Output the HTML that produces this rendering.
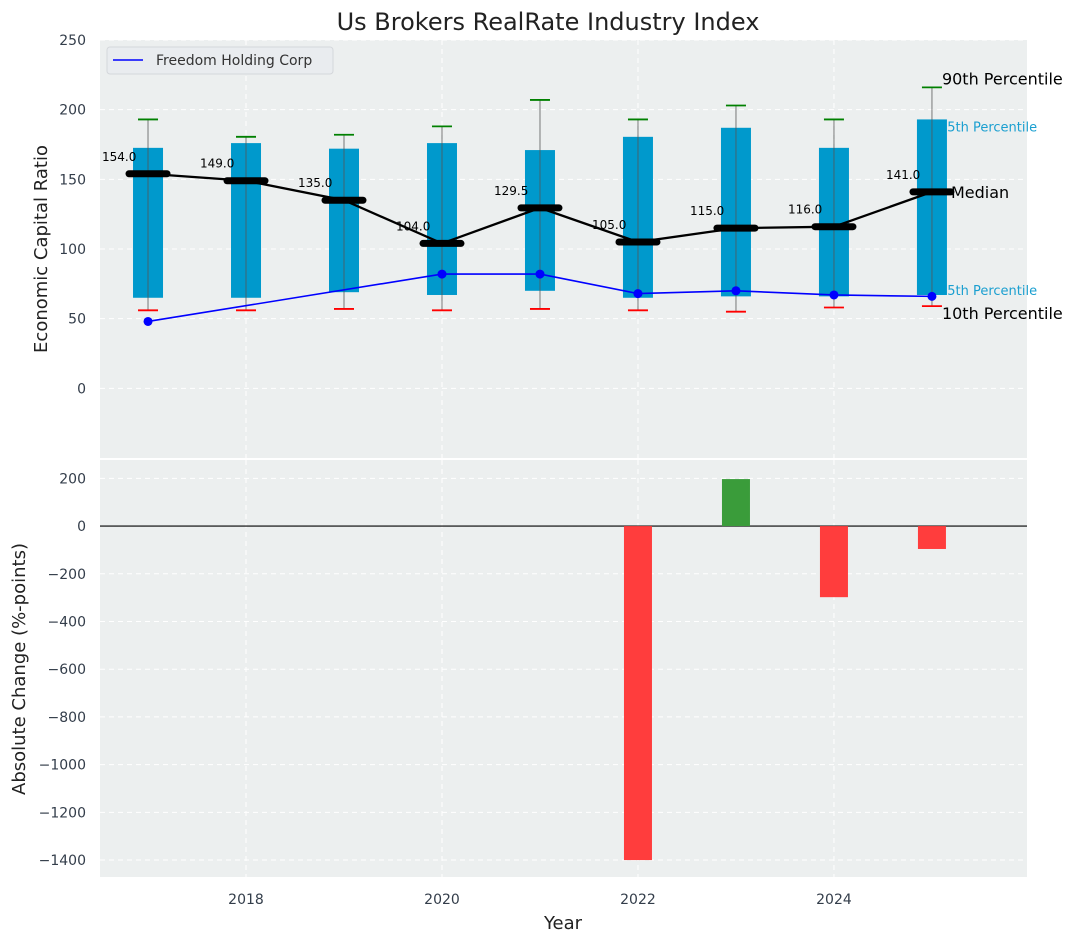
<!DOCTYPE html>
<html><head><meta charset="utf-8"><style>
body{margin:0;background:#fff;}
svg{display:block;font-family:"DejaVu Sans","Liberation Sans",sans-serif;}
</style></head><body>
<svg id="c" width="1077" height="942"></svg>
<script>
const years=[2017,2018,2019,2020,2021,2022,2023,2024,2025];
const p10=[56,56,57,56,57,56,55,58,59];
const p25=[65,65,69,67,70,65,66,66,67];
const med=[154,149,135,104,129.5,105,115,116,141];
const p75=[172.6,176,172,176,171,180.5,187,172.6,193];
const p90=[193,180.5,182,188,207,193,203,193,216];
const firmYears=[2017,2020,2021,2022,2023,2024,2025];
const firmVals=[48,82,82,68,70,67,66];
const chgYears=[2022,2023,2024,2025];
const chgVals=[-1400,197,-298,-96];
const topTicks=[0,50,100,150,200,250];
const botTicks=[200,0,-200,-400,-600,-800,-1000,-1200,-1400];
const xTicks=[2018,2020,2022,2024];

const NS="http://www.w3.org/2000/svg";
const svg=document.getElementById('c');
function el(t,a,p){const e=document.createElementNS(NS,t);for(const k in a)e.setAttribute(k,a[k]);(p||svg).appendChild(e);return e;}
const fmt=v=>String(v).replace('-','\u2212');
const L=100,R=1027;
const X=v=>L+(v-2016.51)/(2025.97-2016.51)*(R-L);
const T0=40,T1=458,Y=v=>T0+(250-v)/300*(T1-T0);
const B0=460,B1=877,YB=v=>B0+(277-v)/(277+1471)*(B1-B0);
const bg='#ECEFEF';
let r=el('rect',{x:L,y:T0,width:R-L,height:T1-T0,fill:bg});

r=el('rect',{x:L,y:B0,width:R-L,height:B1-B0,fill:bg});

topTicks.forEach(t=>{el('line',{x1:L,x2:R,y1:Y(t),y2:Y(t),stroke:'#fff','stroke-dasharray':'5,4','stroke-width':1});
 const tx=el('text',{x:L-14,y:Y(t)+5,'text-anchor':'end','font-size':14,fill:'#333d4a'});tx.textContent=fmt(t);
 });
botTicks.forEach(t=>{el('line',{x1:L,x2:R,y1:YB(t),y2:YB(t),stroke:'#fff','stroke-dasharray':'5,4','stroke-width':1});
 const tx=el('text',{x:L-14,y:YB(t)+5,'text-anchor':'end','font-size':14,fill:'#333d4a'});tx.textContent=fmt(t);
 });
xTicks.forEach(t=>{el('line',{x1:X(t),x2:X(t),y1:T0,y2:T1,stroke:'#fff','stroke-dasharray':'5,4'});
 el('line',{x1:X(t),x2:X(t),y1:B0,y2:B1,stroke:'#fff','stroke-dasharray':'5,4'});
 const tx=el('text',{x:X(t),y:B1+27,'text-anchor':'middle','font-size':14,fill:'#333d4a'});tx.textContent=t;
 });
const last=years.length-1;
[[p75[last],'75th Percentile',12],[p25[last],'25th Percentile',0]].forEach(([v,s,dy])=>{
 const tx=el('text',{x:X(2025)+7,y:Y(v)+dy,'font-size':13,fill:'#1a9fd0'});tx.textContent=s;
 });
years.forEach((yr,i)=>{const x=X(yr),w=30;
 const b=el('rect',{x:x-w/2,y:Y(p75[i]),width:w,height:Y(p25[i])-Y(p75[i]),fill:'#0099cc'});
 
 el('line',{x1:x,x2:x,y1:Y(p90[i]),y2:Y(p10[i]),stroke:'#555','stroke-opacity':0.6,'stroke-width':1.3});
 let c=el('line',{x1:x-10,x2:x+10,y1:Y(p90[i]),y2:Y(p90[i]),stroke:'green','stroke-width':1.8});
 
 c=el('line',{x1:x-10,x2:x+10,y1:Y(p10[i]),y2:Y(p10[i]),stroke:'red','stroke-width':1.8});
 
});
let pl=el('polyline',{points:years.map((y,i)=>X(y)+','+Y(med[i])).join(' '),fill:'none',stroke:'#000','stroke-width':2.3});

years.forEach((yr,i)=>{const x=X(yr);
 const m=el('line',{x1:x-19,x2:x+19,y1:Y(med[i]),y2:Y(med[i]),stroke:'#000','stroke-width':7,'stroke-linecap':'round'});
 
 const tx=el('text',{x:x-46,y:Y(med[i])-13,'font-size':12,fill:'#000'});tx.textContent=med[i].toFixed(1);
 });
pl=el('polyline',{points:firmYears.map((y,i)=>X(y)+','+Y(firmVals[i])).join(' '),fill:'none',stroke:'#0000ff','stroke-width':1.6});

firmYears.forEach((y,i)=>{const d=el('circle',{cx:X(y),cy:Y(firmVals[i]),r:4.5,fill:'#0000ff'});
 });
[[p90[last],'90th Percentile',10,-3],[med[last],'Median',19,6],[p10[last],'10th Percentile',10,13]].forEach(([v,s,dx,dy])=>{
 const tx=el('text',{x:X(2025)+dx,y:Y(v)+dy,'font-size':16,fill:'#000'});tx.textContent=s;
 });
let g=el('g',{});
el('rect',{x:107,y:47,width:226,height:27,rx:3,fill:'#e9ecef',stroke:'#d4d7db'},g);
el('line',{x1:113,x2:143,y1:60,y2:60,stroke:'#0000ff','stroke-width':1.6},g);
let t=el('text',{x:156,y:65,'font-size':14,fill:'#333'},g);t.textContent='Freedom Holding Corp';
el('line',{x1:L,x2:R,y1:YB(0),y2:YB(0),stroke:'#000','stroke-width':1.2});
chgYears.forEach((y,i)=>{const v=chgVals[i],w=28;
 const b=el('rect',{x:X(y)-w/2,y:Math.min(YB(v),YB(0)),width:w,height:Math.abs(YB(v)-YB(0)),fill:v>=0?'#3a9c3a':'#ff3d3d'});
 });
t=el('text',{x:548,y:30,'text-anchor':'middle','font-size':24,fill:'#222'});t.textContent='Us Brokers RealRate Industry Index';

t=el('text',{x:563,y:929,'text-anchor':'middle','font-size':18,fill:'#222'});t.textContent='Year';

t=el('text',{x:0,y:0,'text-anchor':'middle','font-size':18,fill:'#222',transform:'translate(47,249) rotate(-90)'});t.textContent='Economic Capital Ratio';

t=el('text',{x:0,y:0,'text-anchor':'middle','font-size':18,fill:'#222',transform:'translate(25,669) rotate(-90)'});t.textContent='Absolute Change (%-points)';

</script>
</body></html>
